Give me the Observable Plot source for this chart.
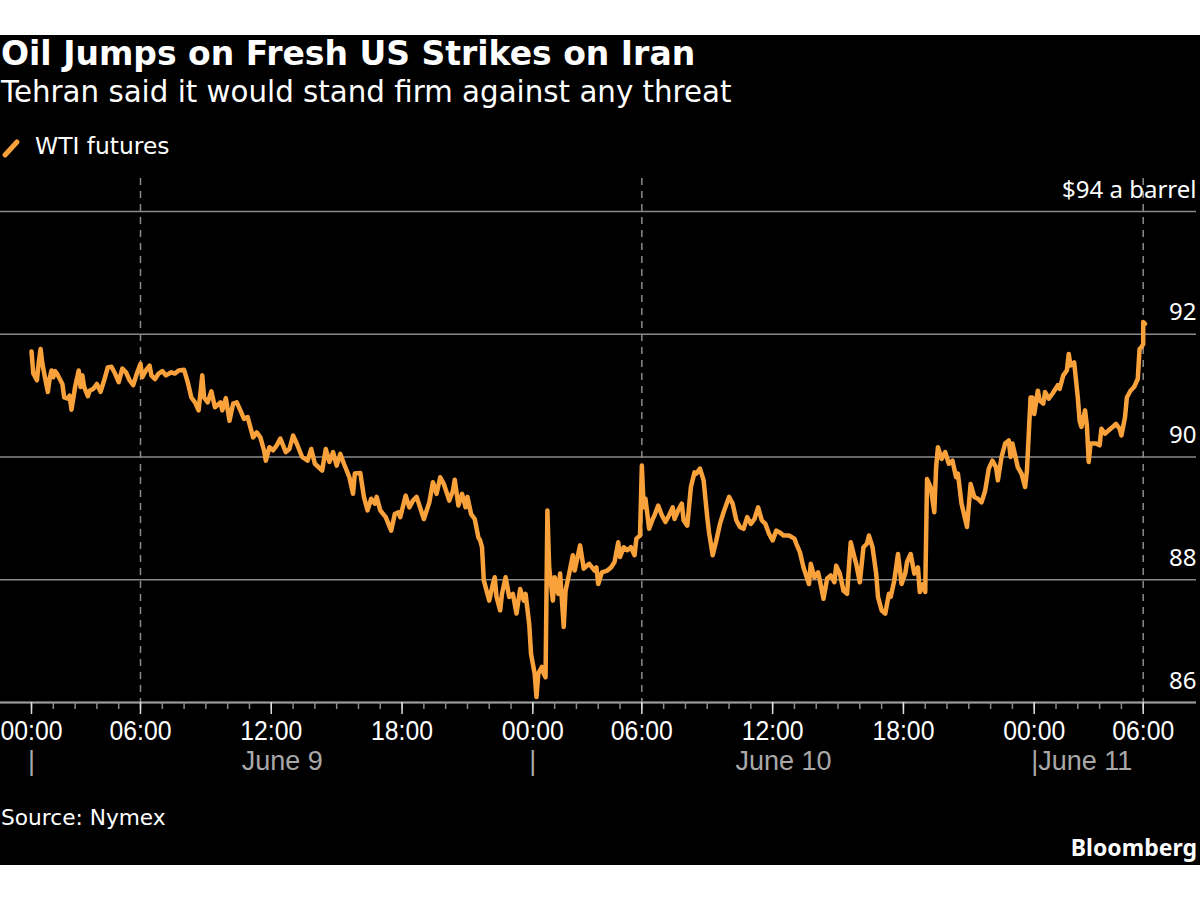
<!DOCTYPE html>
<html><head><meta charset="utf-8">
<script src="https://cdn.jsdelivr.net/npm/d3@7"></script>
<script src="https://cdn.jsdelivr.net/npm/@observablehq/plot@0.6"></script>
<style>
body{margin:0;background:#fff;width:1200px;height:900px;position:relative;overflow:hidden;font-family:"DejaVu Sans",sans-serif;}
#bg{position:absolute;left:0;top:35px;width:1200px;height:830px;background:#000;}
.t{position:absolute;white-space:nowrap;color:#fff;line-height:1;}
#title{left:1px;top:37px;font-size:33px;font-weight:700;}
#subtitle{left:1px;top:78px;font-size:29.3px;}
#legend{left:0;top:135px;font-size:23.4px;}
#legend svg{position:absolute;left:1px;top:2px;}
#legend span{position:absolute;left:35px;top:0;}
#chart{position:absolute;left:0;top:170px;}
#source{left:1px;top:807px;font-size:21.7px;}
#brand{right:3px;top:836px;font-size:23px;font-weight:700;font-family:"Noto Sans",sans-serif;}
</style></head><body>
<div id="bg"></div>
<div class="t" id="title">Oil Jumps on Fresh US Strikes on Iran</div>
<div class="t" id="subtitle">Tehran said it would stand firm against any threat</div>
<div class="t" id="legend"><svg width="22" height="22"><line x1="4" y1="18" x2="16" y2="5" stroke="#F9A13A" stroke-width="5" stroke-linecap="round"/></svg><span>WTI futures</span></div>
<div id="chart"></div>
<div class="t" id="source">Source: Nymex</div>
<div class="t" id="brand">Bloomberg</div>
<script>
// ---- data (WTI futures) ----
const day9Times = ["00:00","00:05","00:15","00:20","00:25","00:30","00:35","00:45","00:50","00:55",
"01:00","01:05","01:10","01:25","01:30","01:40","01:45","01:50","02:00","02:10",
"02:15","02:20","02:25","02:35","02:40","02:50","03:00","03:10","03:20","03:30",
"03:40","03:50","04:00","04:10","04:20","04:30","04:40","04:50","06:00","06:05",
"06:15","06:25","06:30","06:40","06:50","07:00","07:10","07:25","07:35","07:45",
"08:00","08:10","08:20","08:30","08:40","08:50","08:55","09:05","09:15","09:25",
"09:40","09:45","09:55","10:05","10:15","10:25","10:35","10:45","10:55","11:05",
"11:10","11:20","11:30","11:40","11:45","11:55","12:05","12:15","12:25","12:40",
"12:50","13:00","13:10","13:25","13:40","13:50","14:00","14:20","14:30","14:40",
"14:50","15:00","15:10","15:20","15:35","15:45","15:50","16:05","16:15","16:25",
"16:35","16:45","16:50","17:00","17:15","17:30","17:40","17:50","17:55","18:10",
"18:20","18:30","18:40","19:00","19:15","19:25","19:35","19:45","19:55","20:10",
"20:20","20:25","20:35","20:45","20:55","21:00","21:10","21:20","21:30","21:35",
"21:40","21:45","21:55","22:00","22:10","22:15","22:20","22:30","22:35","22:45",
"22:55","23:05","23:15","23:25","23:35","23:40","23:50","23:55"];
const day9Prices = [91.72,91.36,91.25,91.54,91.76,91.52,91.36,91.06,91.28,91.41,
91.30,91.40,91.36,91.19,90.97,90.95,91.00,90.77,91.14,91.41,
91.14,91.33,91.14,90.99,91.08,91.11,91.19,91.06,91.25,91.46,
91.47,91.36,91.22,91.44,91.38,91.25,91.17,91.36,91.52,91.30,
91.41,91.49,91.33,91.27,91.36,91.40,91.33,91.38,91.36,91.41,
91.42,91.22,90.97,90.89,90.76,91.33,90.97,90.89,91.07,90.81,
90.89,90.76,90.96,90.59,90.87,90.89,90.76,90.62,90.65,90.43,
90.32,90.40,90.32,90.11,89.94,90.16,90.11,90.19,90.30,90.08,
90.13,90.35,90.22,90.00,89.94,90.13,89.89,89.78,90.13,89.92,
90.08,89.86,90.05,89.89,89.67,89.40,89.73,89.74,89.35,89.13,
89.32,89.24,89.35,89.13,89.02,88.80,89.07,89.10,89.02,89.37,
89.18,89.29,89.35,88.99,89.26,89.59,89.40,89.67,89.56,89.29,
89.45,89.63,89.21,89.40,89.18,89.35,89.07,88.99,88.69,88.64,
88.53,87.99,87.77,87.66,87.93,88.04,87.72,87.50,87.77,88.04,
87.72,87.77,87.45,87.85,87.66,87.77,87.28,86.79];
const day10Times = ["00:05","00:10","00:15","00:25","00:30","00:35","00:40","00:45","00:55","01:00",
"01:10","01:15","01:25","01:30","01:40","01:50","01:55","02:10","02:20","02:35",
"02:50","02:55","03:00","03:10","03:25","03:35","03:45","03:55","04:00","04:10",
"04:20","04:30","04:40","04:45","04:55","06:00","06:05","06:10","06:20","06:30",
"06:35","06:45","06:55","07:05","07:15","07:25","07:30","07:40","07:50","07:55",
"08:05","08:15","08:25","08:30","08:40","08:50","09:00","09:05","09:15","09:25",
"09:35","09:45","10:00","10:10","10:20","10:30","10:40","10:50","11:00","11:10",
"11:20","11:30","11:40","11:50","12:00","12:10","12:20","12:30","12:45","13:00",
"13:05","13:15","13:25","13:40","13:45","13:55","14:05","14:10","14:20","14:30",
"14:40","14:50","14:55","15:05","15:15","15:25","15:30","15:35","15:45","15:50",
"16:00","16:10","16:20","16:25","16:35","16:45","16:50","17:00","17:10","17:20",
"17:25","17:35","17:45","17:55","18:05","18:10","18:20","18:30","18:40","18:45",
"18:55","19:00","19:05","19:15","19:25","19:30","19:35","19:45","19:55","20:05",
"20:15","20:25","20:30","20:40","20:55","21:05","21:15","21:25","21:35","21:45",
"21:55","22:05","22:15","22:20","22:30","22:40","22:50","22:55","23:00","23:15",
"23:25","23:35","23:40","23:50","23:55"];
const day10Prices = [86.47,86.09,86.47,86.58,86.47,86.41,89.13,88.20,87.66,88.04,
87.77,88.10,87.23,87.82,88.10,88.40,88.15,88.56,88.18,88.26,
88.15,88.20,87.93,88.12,88.15,88.20,88.29,88.61,88.37,88.53,
88.48,88.53,88.40,88.67,88.72,89.86,89.18,89.32,88.83,88.99,
89.05,89.21,89.05,88.94,89.05,89.18,88.99,89.13,89.24,88.97,
88.88,89.51,89.75,89.73,89.81,89.62,89.02,88.77,88.40,88.64,
88.91,89.10,89.35,89.24,88.97,88.86,88.83,89.02,88.91,88.99,
89.18,88.97,88.91,88.75,88.64,88.80,88.77,88.72,88.72,88.67,
88.59,88.45,88.20,87.93,88.26,88.04,88.12,87.99,87.69,88.02,
88.07,87.96,88.23,88.10,87.82,87.77,88.20,88.61,88.37,88.26,
87.96,88.53,88.59,88.72,88.53,88.10,87.72,87.50,87.45,87.77,
87.72,87.99,88.42,87.93,88.10,88.29,88.42,88.10,88.20,87.80,
87.93,87.80,89.64,89.51,89.10,89.83,90.16,89.97,90.08,89.89,
89.94,89.67,89.73,89.24,88.86,89.56,89.35,89.32,89.26,89.45,
89.81,89.94,89.83,89.62,90.00,90.22,90.27,90.00,90.22,89.83,
89.73,89.51,89.78,90.97,90.97];
const day11Times = ["00:00","00:10","00:15","00:25","00:30","00:40","00:50","01:05","01:10","01:20",
"01:30","01:35","01:40","01:50","02:00","02:05","02:10","02:20","02:25","02:30",
"02:35","02:50","03:00","03:05","03:15","03:30","03:40","03:45","03:55","04:00",
"04:10","04:15","04:25","04:35","04:45","04:50","04:55","05:00","06:00","06:05"];
const day11Prices = [90.70,91.08,90.92,90.87,91.06,90.95,91.03,91.17,91.11,91.33,
91.41,91.68,91.49,91.54,90.97,90.59,90.49,90.76,90.51,89.92,
90.22,90.22,90.19,90.46,90.38,90.46,90.51,90.54,90.46,90.35,
90.65,90.97,91.08,91.14,91.27,91.76,91.79,91.84,92.20,92.17];

const dayNames = ["June 9", "June 10", "June 11"];
const tickDays = [0, 0, 0, 0, 1, 1, 1, 1, 2, 2];
const tickTimes = ["00:00","06:00","12:00","18:00","00:00","06:00","12:00","18:00","00:00","06:00"];
const sessionOpen = "06:00";   // daily reopening after the 05:00-06:00 break
const priceTicks = [86, 88, 90, 92, 94];
const unitLabel = "$94 a barrel";

// trading-time axis: the daily 05:00-06:00 maintenance break is removed
function tradingHours(day, hhmm) {
  const [h, m] = hhmm.split(":").map(Number);
  const w = h + m / 60;
  const gap = w >= 6 ? 1 : (w > 5 ? w - 5 : 0);
  return day * 23 + w - gap;
}

const series = [[day9Times, day9Prices], [day10Times, day10Prices], [day11Times, day11Prices]];
const data = [];
series.forEach(([ts, ps], d) => {
  const n = Math.min(ts.length, ps.length);
  for (let i = 0; i < n; i++) data.push({t: tradingHours(d, ts[i]), price: ps[i]});
});

const majorTicks = tickTimes.map((s, i) => tradingHours(tickDays[i], s));
const labelOf = new Map(majorTicks.map((t, i) => [t, tickTimes[i]]));
const tMax = tradingHours(2, "06:00");
const minorTicks = [];
for (let d = 0; d < 3; d++) for (let h = 0; h < 24; h++) {
  if (h === 5) continue;
  const t = tradingHours(d, String(h).padStart(2, "0") + ":00");
  if (t <= tMax) minorTicks.push(t);
}
const breaks = [0, 1, 2].map(d => tradingHours(d, sessionOpen));
const dayStart = [0, 1, 2].map(d => tradingHours(d, "00:00"));
const centeredDays = [
  {t: (dayStart[0] + dayStart[1]) / 2, text: dayNames[0]},
  {t: (dayStart[1] + dayStart[2]) / 2, text: dayNames[1]}
];
const openDay = [{t: dayStart[2], text: "|" + dayNames[2]}];
const dayBars = [dayStart[0], dayStart[1]];

const TICKFONT = '"Liberation Sans",Arimo,sans-serif';
const GRID = "#8a8a8a";
const DATEGRAY = "#a8a8a8";

const chart = Plot.plot({
  width: 1200, height: 620,
  marginTop: 8, marginBottom: 88, marginLeft: 0, marginRight: 4,
  style: {background: "transparent", color: "#fff", fontFamily: '"Noto Sans",sans-serif'},
  x: {domain: [0, tMax], range: [31, 1142.7], axis: null},
  y: {domain: [86, 94], range: [532, 41], axis: null},
  marks: [
    Plot.ruleY(priceTicks, {stroke: GRID, strokeWidth: 1.5}),
    Plot.ruleX(breaks, {stroke: GRID, strokeWidth: 1.5, strokeDasharray: "7,6"}),
    Plot.ruleY([86], {stroke: "#9a9a9a", strokeWidth: 2}),
    Plot.axisX(minorTicks, {tickSize: 7, stroke: GRID, tickFormat: () => "", label: null, strokeWidth: 1.5}),
    Plot.axisX(majorTicks, {tickSize: 12, stroke: "#e0e0e0", tickFormat: () => "", label: null, strokeWidth: 1.5}),
    Plot.text(majorTicks, {x: d => d, text: d => labelOf.get(d), frameAnchor: "bottom", lineAnchor: "top", dy: 18, fill: "#fff", fontSize: 28, fontFamily: TICKFONT}),
    Plot.text(centeredDays, {x: "t", text: "text", frameAnchor: "bottom", lineAnchor: "top", dy: 48, fill: DATEGRAY, fontSize: 27, fontFamily: TICKFONT}),
    Plot.text(openDay, {x: "t", text: "text", textAnchor: "start", frameAnchor: "bottom", lineAnchor: "top", dy: 48, dx: -3, fill: DATEGRAY, fontSize: 27, fontFamily: TICKFONT}),
    Plot.text(dayBars, {x: d => d, text: () => "|", frameAnchor: "bottom", lineAnchor: "top", dy: 48, fill: DATEGRAY, fontSize: 27, fontFamily: TICKFONT}),
    Plot.text(priceTicks, {y: d => d, text: d => d === 94 ? unitLabel : String(d), frameAnchor: "right", textAnchor: "end", lineAnchor: "bottom", dy: -14, fill: "#fff", fontSize: 24}),
    Plot.line(data, {x: "t", y: "price", stroke: "#F9A13A", strokeWidth: 4.5, strokeLinejoin: "round", strokeLinecap: "round"})
  ]
});
// condensed look of the hour labels
chart.querySelectorAll("text").forEach(el => {
  if (/^\d\d:\d\d$/.test(el.textContent)) {
    el.setAttribute("textLength", 62);
    el.setAttribute("lengthAdjust", "spacingAndGlyphs");
  }
});
document.getElementById("chart").appendChild(chart);
</script>
</body></html>
